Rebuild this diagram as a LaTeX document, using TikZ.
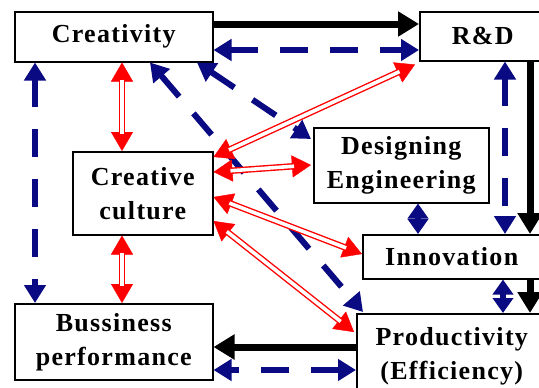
\documentclass[tikz,border=0pt]{standalone}
\usepackage{fontspec}
\setmainfont{Liberation Serif}[LetterSpace=5]
\usetikzlibrary{arrows.meta}
\definecolor{navyline}{RGB}{10,10,130}
\tikzset{
  box/.style={draw=black, line width=1.5pt, fill=white, anchor=north west,
    align=center, inner sep=0pt,
    font=\fontsize{26}{34}\selectfont\bfseries},
  blk/.style={draw=black, line width=7pt, -{Triangle[length=21pt,width=24pt]}},
  bluelink/.style={draw=navyline, line width=6pt, dash pattern=on 28pt off 22pt,
    {Triangle[length=18pt,width=21pt]}-{Triangle[length=18pt,width=21pt]}},
  blueshort/.style={draw=navyline, line width=6pt,
    {Triangle[length=15pt,width=20pt]}-{Triangle[length=15pt,width=20pt]}},
  redtip/.style={draw=red, fill=red, line width=0.4pt,
    {Triangle[length=19pt,width=22pt]}-{Triangle[length=19pt,width=22pt]}},
  redpipe/.style={draw=red, line width=1.4pt, double=white, double distance=3.6pt,
    shorten <=17pt, shorten >=17pt},
}
% red hollow double-line connector with solid heads at both ends
\newcommand\rlink[2]{%
  \draw[redtip] (#1) -- (#2);
  \draw[redpipe] (#1) -- (#2);}
\begin{document}
\begin{tikzpicture}[x=1pt,y=-1pt]
\useasboundingbox (0,0) rectangle (539,388);
\fill[white] (0,0) rectangle (539,388);

% boxes
\node[box, minimum width=198pt, minimum height=50pt] (creat) at (14,11) {Creativity};
\node[box, minimum width=126pt, minimum height=49pt] (rd) at (419,11) {R\&D};
\node[box, minimum width=140pt, minimum height=83pt] (cc) at (72,151) {Creative\\culture};
\node[box, minimum width=175pt, minimum height=75pt] (de) at (313,127) {Designing\\Engineering};
\node[box, minimum width=178pt, minimum height=44pt] (inno) at (362,234) {Innovation};
\node[box, minimum width=190pt, minimum height=85pt] (prod) at (356,313) {Productivity\\(Efficiency)};
\node[box, minimum width=198pt, minimum height=76pt] (bus) at (14,303) {Bussiness\\performance};

% black flow
\draw[blk] (creat.east |- 0,24) -- (rd.west |- 0,24);
\draw[blk] (rd.south -| 530,0) -- (inno.north -| 530,0);
\draw[blk] (inno.south -| 530,0) -- (prod.north -| 530,0);
\draw[blk] (prod.west |- 0,347) -- (bus.east |- 0,347);

% blue dashed two-way links
\draw[bluelink] (creat.east |- 0,50) -- (rd.west |- 0,50);
\draw[bluelink] (creat.south -| 35,0) -- (bus.north -| 35,0);
\draw[bluelink] (rd.south -| 505,0) -- (inno.north -| 505,0);
\draw[bluelink] (prod.west |- 0,370) -- (bus.east |- 0,370);
\draw[bluelink] (creat.south -| 150,0) -- ([xshift=7pt,yshift=1pt]prod.north west);
\draw[bluelink] (creat.south -| 197,0) -- ([xshift=-2pt,yshift=-12pt]de.north west);
\draw[blueshort] (de.south -| 418,0) -- (inno.north -| 418,0);
\draw[blueshort] (inno.south -| 503,0) -- (prod.north -| 503,0);

% red links around the creative culture
\rlink{creat.south -| 122,0}{cc.north -| 122,0}
\rlink{cc.south -| 122,0}{bus.north -| 122,0}
\rlink{cc.east |- 0,157}{[xshift=-4pt,yshift=-3pt]rd.south west}
\rlink{cc.east |- 0,172}{[xshift=-2pt]de.west |- 0,165}
\rlink{cc.east |- 0,197}{inno.west |- 0,254}
\rlink{cc.east |- 0,221}{[xshift=-2pt]prod.west |- 0,332}
\end{tikzpicture}
\end{document}
